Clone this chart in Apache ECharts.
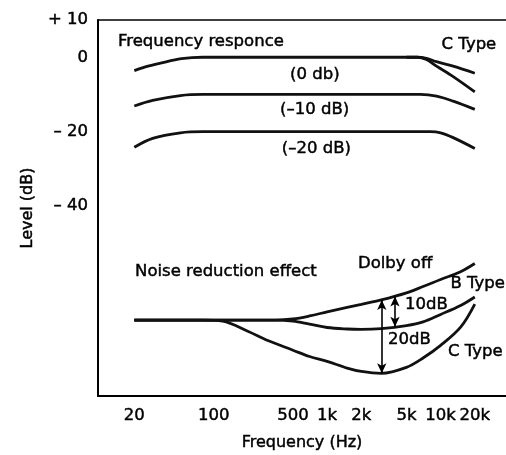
<!DOCTYPE html>
<html>
<head>
<meta charset="utf-8">
<script src="https://cdn.jsdelivr.net/npm/echarts@6/dist/echarts.min.js"></script>
<style>html,body{margin:0;padding:0;background:#fff;}#c{width:506px;height:455px;}</style>
</head>
<body>
<div id="c"></div>
<script>
// ---- tick labels ----
const freqTicks = [20, 100, 500, 1000, 2000, 5000, 10000, 20000];
const freqTickLabels = ['20', '100', '500', '1k', '2k', '5k', '10k', '20k'];
const levelTicks = [10, 0, -20, -40];
const levelTickLabels = ['+ 10', '0', '– 20', '– 40'];

// ---- frequency response curves [Hz, dB] ----
const resp0 = [[20,-3.6],[25,-2.6],[34,-1.6],[52,-0.4],[80,0],[200,0],[500,0],[1000,0],[2500,0],[5000,0],[6200,0],[7500,-0.3],[9200,-1.2],[12900,-2.4],[20000,-4.3]];
const resp0C = [[5000,0],[6200,0],[7500,-0.6],[9200,-2.4],[12900,-5.2],[20000,-9.3]];
const resp10 = [[20,-13.1],[29,-11.6],[51,-10.3],[80,-10],[200,-10],[500,-10],[1000,-10],[2500,-10],[5000,-10],[6600,-10],[9200,-10.45],[12900,-11.8],[20000,-14.0]];
const resp20 = [[20,-24.2],[29,-21.8],[51,-20.3],[80,-20],[200,-20],[500,-20],[1000,-20],[2500,-20],[5000,-20],[8100,-20],[10000,-20.3],[12900,-21.6],[20000,-24.5]];

// ---- noise reduction effect curves [Hz, dB] ----
const dolbyOff = [[20,-70.6],[50,-70.6],[100,-70.6],[200,-70.6],[350,-70.6],[500,-70.3],[700,-69.5],[1000,-68.4],[1500,-67.2],[2000,-66.4],[3000,-65.2],[5000,-63.3],[7000,-61.6],[10000,-59.7],[15000,-57.6],[20000,-55.4]];
const bType = [[20,-70.6],[50,-70.6],[100,-70.6],[200,-70.6],[350,-70.6],[500,-70.9],[700,-71.7],[1000,-72.6],[1500,-73.0],[2000,-73.1],[3000,-72.9],[5000,-72.1],[7000,-71.1],[10000,-69.1],[15000,-66.7],[20000,-64.4]];
const cType = [[20,-70.6],[50,-70.6],[80,-70.6],[120,-70.9],[200,-73.6],[300,-76.1],[500,-78.7],[700,-80.4],[1000,-81.7],[1500,-83.5],[2000,-84.4],[3000,-84.9],[5000,-83.3],[7000,-80.8],[10000,-77.4],[15000,-72.5],[20000,-66.3]];

// ---- arrows [Hz, dB] ----
const arrow20 = [[3030,-65.2],[3030,-84.9]];
const arrow10 = [[3960,-64.3],[3960,-72.4]];

// ---- annotations [text, Hz, dB] ----
const notes = [
  ['Frequency responce', 14.35, 4.2],
  ['C Type', 10200, 3.3],
  ['(0 db)', 471, -4.6],
  ['(–10 dB)', 385, -14.2],
  ['(–20 dB)', 398, -24.5],
  ['Noise reduction effect', 20.3, -57.6],
  ['Dolby off', 1870, -55.4],
  ['B Type', 12200, -60.8],
  ['10dB', 4850, -66.6],
  ['20dB', 3440, -76.0],
  ['C Type', 11600, -79.2]
];

const L = Math.log10;
const toXY = arr => arr.map(p => [L(p[0]), p[1]]);
const FONT = 'DejaVu Sans';
const INK = '#000';
const TXT = { fontFamily: FONT, fontSize: 16.5, color: INK, textBorderColor: INK, textBorderWidth: 0.45 };

const lineSeries = (data) => ({
  type: 'line', data: toXY(data), smooth: 0.35, symbol: 'none', silent: true,
  lineStyle: { color: '#111', width: 2.8 }, z: 3
});

const xMin = 0.981, xMax = 4.576;

const chart = echarts.init(document.getElementById('c'), null, { renderer: 'canvas' });
const ticksLog = freqTicks.map(L);
chart.setOption({
  animation: false,
  backgroundColor: '#fff',
  grid: { left: 98, right: 0, top: 20, bottom: 59, outerBoundsMode: 'none', containLabel: false },
  xAxis: [{
    type: 'value', min: xMin, max: xMax,
    name: 'Frequency (Hz)', nameLocation: 'middle', nameGap: 39,
    nameTextStyle: Object.assign({}, TXT, { fontSize: 16 }),
    axisLine: { show: true, onZero: false, lineStyle: { color: INK, width: 2 } },
    axisTick: { show: false },
    splitLine: { show: false },
    axisLabel: Object.assign({
      customValues: ticksLog, margin: 11,
      formatter: v => { let i = ticksLog.findIndex(t => Math.abs(t - v) < 1e-6); return i >= 0 ? freqTickLabels[i] : ''; }
    }, TXT)
  }, {
    type: 'value', min: xMin, max: xMax, position: 'top',
    axisLine: { show: true, onZero: false, lineStyle: { color: INK, width: 1.6 } },
    axisTick: { show: false }, axisLabel: { show: false }, splitLine: { show: false }
  }],
  yAxis: {
    type: 'value', min: -91, max: 10,
    name: 'Level (dB)', nameLocation: 'middle', nameGap: 62,
    nameTextStyle: Object.assign({}, TXT, { fontSize: 16 }),
    axisLine: { show: true, onZero: false, lineStyle: { color: INK, width: 2 } },
    axisTick: { show: false },
    splitLine: { show: false },
    axisLabel: Object.assign({
      customValues: levelTicks, margin: 10,
      formatter: v => { let i = levelTicks.indexOf(v); return i >= 0 ? levelTickLabels[i] : ''; }
    }, TXT)
  },
  series: [
    lineSeries(resp0), lineSeries(resp0C), lineSeries(resp10), lineSeries(resp20),
    lineSeries(dolbyOff), lineSeries(bType),
    Object.assign(lineSeries(cType), {
      markLine: {
        silent: true, symbol: ['arrow', 'arrow'], symbolSize: [7, 10], precision: 6,
        label: { show: false },
        lineStyle: { color: INK, width: 1.6, type: 'solid' },
        data: [
          [{ coord: [L(arrow20[0][0]), arrow20[0][1]] }, { coord: [L(arrow20[1][0]), arrow20[1][1]] }],
          [{ coord: [L(arrow10[0][0]), arrow10[0][1]] }, { coord: [L(arrow10[1][0]), arrow10[1][1]] }]
        ]
      }
    }),
    {
      type: 'scatter', symbolSize: 0, silent: true, z: 5,
      itemStyle: { opacity: 1 },
      data: notes.map(n => ({ name: n[0], value: [L(n[1]), n[2]] })),
      label: Object.assign({ show: true, position: 'right', distance: 0, formatter: '{b}', opacity: 1 }, TXT)
    }
  ]
});
</script>
</body>
</html>
